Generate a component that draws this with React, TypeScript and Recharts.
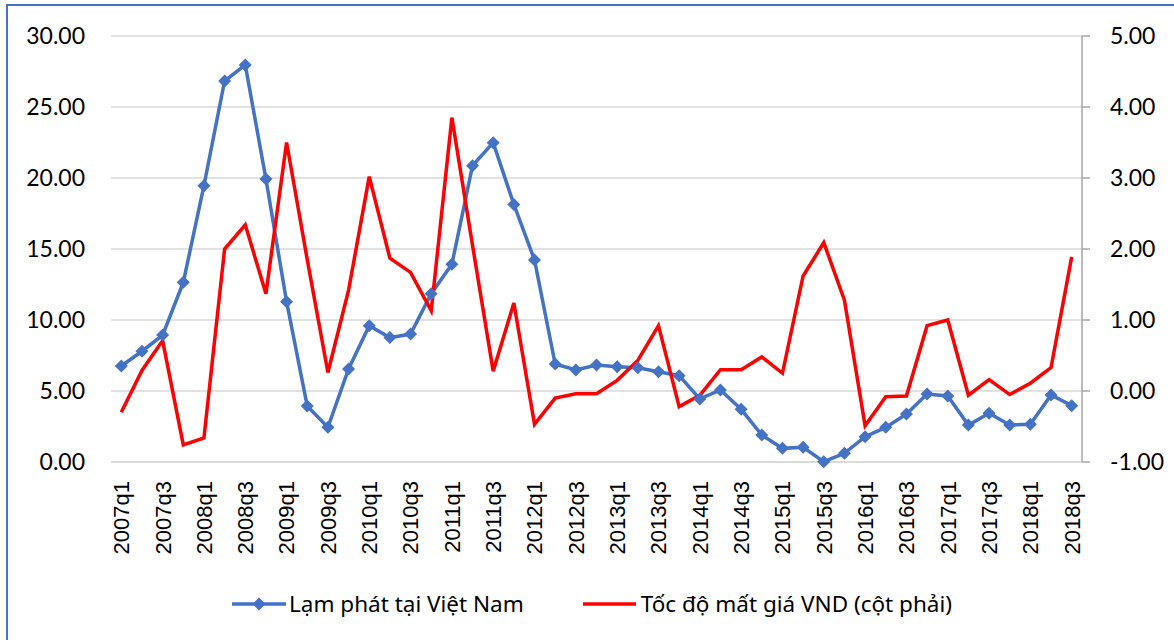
import { LineChart, Line, XAxis, YAxis, CartesianGrid, Legend } from 'recharts';

const quarters = [
  '2007q1', '2007q2', '2007q3', '2007q4', '2008q1', '2008q2', '2008q3', '2008q4',
  '2009q1', '2009q2', '2009q3', '2009q4', '2010q1', '2010q2', '2010q3', '2010q4',
  '2011q1', '2011q2', '2011q3', '2011q4', '2012q1', '2012q2', '2012q3', '2012q4',
  '2013q1', '2013q2', '2013q3', '2013q4', '2014q1', '2014q2', '2014q3', '2014q4',
  '2015q1', '2015q2', '2015q3', '2015q4', '2016q1', '2016q2', '2016q3', '2016q4',
  '2017q1', '2017q2', '2017q3', '2017q4', '2018q1', '2018q2', '2018q3',
];

// Lạm phát (trục trái)
const inflation = [
  6.76, 7.8, 8.94, 12.65, 19.46, 26.83, 27.96, 19.93,
  11.29, 3.94, 2.44, 6.55, 9.6, 8.76, 9.01, 11.85,
  13.92, 20.87, 22.49, 18.14, 14.23, 6.9, 6.48, 6.83,
  6.71, 6.64, 6.36, 6.08, 4.44, 5.07, 3.71, 1.9,
  0.96, 1.03, 0.02, 0.61, 1.78, 2.44, 3.38, 4.79,
  4.65, 2.6, 3.43, 2.6, 2.65, 4.72, 3.97,
];

// Tốc độ mất giá VND (trục phải)
const depreciation = [
  -0.3, 0.29, 0.71, -0.76, -0.66, 2.0, 2.34, 1.37,
  3.5, 1.85, 0.26, 1.42, 3.02, 1.87, 1.67, 1.13,
  3.85, 2.05, 0.28, 1.24, -0.47, -0.1, -0.04, -0.04,
  0.15, 0.43, 0.92, -0.22, -0.06, 0.3, 0.3, 0.48,
  0.25, 1.62, 2.09, 1.28, -0.49, -0.08, -0.07, 0.92,
  1.0, -0.06, 0.16, -0.05, 0.11, 0.33, 1.89,
];

const leftTicks = [0, 5, 10, 15, 20, 25, 30];
const rightTicks = [-1, 0, 1, 2, 3, 4, 5];

const BLUE = '#4472C4';
const RED = '#FF0000';

const data = quarters.map((q, i) => ({ q, inflation: inflation[i], vnd: depreciation[i] }));

const Diamond = (props: any) => {
  const { cx, cy } = props;
  if (cx == null || cy == null) return null;
  const r = 6.5;
  return (
    <polygon
      points={`${cx},${cy - r} ${cx + r},${cy} ${cx},${cy + r} ${cx - r},${cy}`}
      fill={BLUE}
      stroke="none"
    />
  );
};

const QuarterTick = (props: any) => {
  const { x, payload } = props;
  return (
    <text
      x={x}
      y={481}
      transform={`rotate(-90, ${x}, 481)`}
      textAnchor="end"
      dy="0.36em"
      fontFamily="'Liberation Sans', Arial, sans-serif"
      fontSize={22}
      fill="#000"
    >
      {payload.value}
    </text>
  );
};

const ChartLegend = () => (
  <div
    style={{
      display: 'flex',
      alignItems: 'center',
      fontFamily: "'Noto Sans', sans-serif",
      fontSize: 22.5,
      color: '#000',
      whiteSpace: 'nowrap',
    }}
  >
    <svg width={54} height={20} style={{ marginLeft: 232, flexShrink: 0 }}>
      <line x1={0} y1={10} x2={54} y2={10} stroke={BLUE} strokeWidth={3.5} />
      <polygon points="27,3.5 33.5,10 27,16.5 20.5,10" fill={BLUE} />
    </svg>
    <span style={{ marginLeft: 3 }}>Lạm phát tại Việt Nam</span>
    <svg width={53} height={20} style={{ marginLeft: 59, flexShrink: 0 }}>
      <line x1={0} y1={10} x2={53} y2={10} stroke={RED} strokeWidth={3.5} />
    </svg>
    <span style={{ marginLeft: 5 }}>Tốc độ mất giá VND (cột phải)</span>
  </div>
);

export default function App() {
  return (
    <div style={{ position: 'absolute', left: 0, top: 0, width: 1174, height: 640, background: '#fff' }}>
      <div
        style={{
          position: 'absolute',
          left: 6,
          top: 4,
          right: 0,
          bottom: 0,
          borderLeft: `2px solid ${BLUE}`,
          borderTop: `2px solid ${BLUE}`,
        }}
      />
      <LineChart
        width={1174}
        height={640}
        data={data}
        margin={{ top: 36, right: 0, left: 0, bottom: 44 }}
        style={{ position: 'absolute', left: 0, top: 0 }}
      >
        <CartesianGrid yAxisId="left" vertical={false} stroke="#D9D9D9" strokeWidth={1.5} />
        <XAxis
          dataKey="q"
          interval={1}
          height={110}
          padding={{ left: 10.3, right: 10.3 }}
          tickLine={false}
          axisLine={{ stroke: '#D9D9D9', strokeWidth: 1.5 }}
          tick={<QuarterTick />}
        />
        <YAxis
          yAxisId="left"
          width={111}
          domain={[0, 30]}
          ticks={leftTicks}
          tickFormatter={(v: number) => v.toFixed(2)}
          axisLine={false}
          tickLine={false}
          tickSize={0}
          tickMargin={26}
          tick={{ fill: '#000', fontSize: 23, fontFamily: 'Lato, sans-serif' }}
        />
        <YAxis
          yAxisId="right"
          orientation="right"
          width={92}
          domain={[-1, 5]}
          ticks={rightTicks}
          tickFormatter={(v: number) => v.toFixed(2)}
          axisLine={{ stroke: '#A6A6A6', strokeWidth: 1.5 }}
          tickLine={{ stroke: '#A6A6A6', strokeWidth: 1.5 }}
          tickSize={8}
          tickMargin={20}
          tick={{ fill: '#000', fontSize: 23, fontFamily: 'Lato, sans-serif' }}
        />
        <Legend
          content={<ChartLegend />}
          wrapperStyle={{ position: 'absolute', top: 588, left: 0, width: 1174, height: 24 }}
        />
        <Line
          yAxisId="left"
          dataKey="inflation"
          name="Lạm phát tại Việt Nam"
          stroke={BLUE}
          strokeWidth={3.5}
          dot={<Diamond />}
          activeDot={false}
          isAnimationActive={false}
        />
        <Line
          yAxisId="right"
          dataKey="vnd"
          name="Tốc độ mất giá VND (cột phải)"
          stroke={RED}
          strokeWidth={3.5}
          dot={false}
          activeDot={false}
          isAnimationActive={false}
        />
      </LineChart>
    </div>
  );
}
